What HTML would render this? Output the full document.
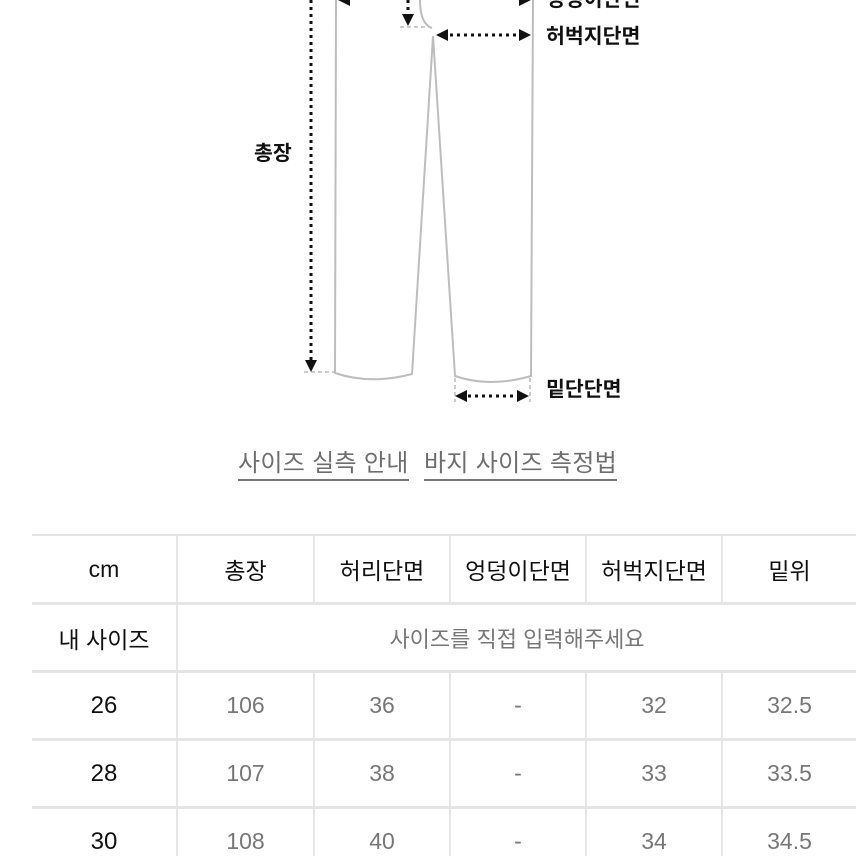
<!DOCTYPE html>
<html><head><meta charset="utf-8"><style>
html,body{margin:0;padding:0;background:#fff;width:856px;height:856px;overflow:hidden;position:relative;font-family:"Liberation Sans","Noto Sans CJK KR",sans-serif}
.lk{position:absolute;top:450px;font-size:24px;letter-spacing:0.3px;color:#6e6e6e;white-space:nowrap;line-height:28px;border-bottom:2px solid #777;padding-bottom:1px}
.c{position:absolute;display:flex;align-items:center;justify-content:center;font-size:23px;white-space:nowrap}
.h{color:#111}.v{color:#777}
.gl{position:absolute;background:#e6e6e6}
</style></head><body>
<svg width="856" height="440" style="position:absolute;left:0;top:0" xmlns="http://www.w3.org/2000/svg">
 <g fill="none" stroke="#bdbdbd" stroke-width="2">
  <path d="M336 0 L335 373 Q370 385 412 374 L433 36 L455 376 Q490 388 531 376 L533 0"/>
  <path d="M420 0 Q420 24 432 28"/>
 </g>
 <g stroke="#bbb" stroke-width="1.5" stroke-dasharray="4 3" fill="none">
  <path d="M304 372 L335 372"/><path d="M400 27 L430 27"/>
  <path d="M455 378 L455 402"/><path d="M530 378 L530 402"/>
 </g>
 <g stroke="#111" stroke-width="3" stroke-dasharray="3 4" fill="none">
  <path d="M311 0 L311 360"/><path d="M408 0 L408 16"/>
  <path d="M450 35 L518 35"/><path d="M468 396 L516 396"/>
 </g>
 <g fill="#111">
  <path d="M305 360 L317 360 L311 372Z"/><path d="M402 14 L414 14 L408 26Z"/>
  <path d="M436 35 L448 29 L448 41Z"/><path d="M531 35 L519 29 L519 41Z"/>
  <path d="M455 396 L467 390 L467 402Z"/><path d="M529 396 L517 390 L517 402Z"/>
  <path d="M338 0 L350 -6 L350 6Z"/><path d="M531 0 L519 -6 L519 6Z"/>
 </g>
 <g font-family="Liberation Sans,Noto Sans CJK KR,sans-serif" font-weight="bold" font-size="20.5" fill="#111">
  <text x="546" y="6">엉덩이단면</text>
  <text x="546" y="43">허벅지단면</text>
  <text x="254" y="160">총장</text>
  <text x="546" y="396">밑단단면</text>
 </g>
</svg>
<div class="lk" style="left:238px">사이즈 실측 안내</div>
<div class="lk" style="left:424px">바지 사이즈 측정법</div>

<div class="gl" style="left:32px;top:534px;width:824px;height:2px"></div>
<div class="gl" style="left:32px;top:602px;width:824px;height:3px"></div>
<div class="gl" style="left:32px;top:670px;width:824px;height:3px"></div>
<div class="gl" style="left:32px;top:738px;width:824px;height:3px"></div>
<div class="gl" style="left:32px;top:806px;width:824px;height:3px"></div>
<div class="gl" style="left:176px;top:534px;width:2px;height:322px"></div>
<div class="gl" style="left:313px;top:534px;width:2px;height:70px"></div>
<div class="gl" style="left:449px;top:534px;width:2px;height:70px"></div>
<div class="gl" style="left:585px;top:534px;width:2px;height:70px"></div>
<div class="gl" style="left:721px;top:534px;width:2px;height:70px"></div>
<div class="gl" style="left:313px;top:670px;width:2px;height:186px"></div>
<div class="gl" style="left:449px;top:670px;width:2px;height:186px"></div>
<div class="gl" style="left:585px;top:670px;width:2px;height:186px"></div>
<div class="gl" style="left:721px;top:670px;width:2px;height:186px"></div>

<div class="c h" style="left:32px;top:536px;width:144px;height:66px">cm</div>
<div class="c h" style="left:178px;top:536px;width:135px;height:66px">총장</div>
<div class="c h" style="left:315px;top:536px;width:134px;height:66px">허리단면</div>
<div class="c h" style="left:451px;top:536px;width:134px;height:66px">엉덩이단면</div>
<div class="c h" style="left:587px;top:536px;width:134px;height:66px">허벅지단면</div>
<div class="c h" style="left:723px;top:536px;width:133px;height:66px">밑위</div>

<div class="c h" style="left:32px;top:605px;width:144px;height:65px">내 사이즈</div>
<div class="c v" style="left:178px;top:605px;width:678px;height:65px;font-size:22px">사이즈를 직접 입력해주세요</div>

<div class="c h" style="left:32px;top:673px;width:144px;height:65px;font-size:24px">26</div>
<div class="c v" style="left:178px;top:673px;width:135px;height:65px">106</div>
<div class="c v" style="left:315px;top:673px;width:134px;height:65px">36</div>
<div class="c v" style="left:451px;top:673px;width:134px;height:65px">-</div>
<div class="c v" style="left:587px;top:673px;width:134px;height:65px">32</div>
<div class="c v" style="left:723px;top:673px;width:133px;height:65px">32.5</div>

<div class="c h" style="left:32px;top:741px;width:144px;height:65px;font-size:24px">28</div>
<div class="c v" style="left:178px;top:741px;width:135px;height:65px">107</div>
<div class="c v" style="left:315px;top:741px;width:134px;height:65px">38</div>
<div class="c v" style="left:451px;top:741px;width:134px;height:65px">-</div>
<div class="c v" style="left:587px;top:741px;width:134px;height:65px">33</div>
<div class="c v" style="left:723px;top:741px;width:133px;height:65px">33.5</div>

<div class="c h" style="left:32px;top:809px;width:144px;height:65px;font-size:24px">30</div>
<div class="c v" style="left:178px;top:809px;width:135px;height:65px">108</div>
<div class="c v" style="left:315px;top:809px;width:134px;height:65px">40</div>
<div class="c v" style="left:451px;top:809px;width:134px;height:65px">-</div>
<div class="c v" style="left:587px;top:809px;width:134px;height:65px">34</div>
<div class="c v" style="left:723px;top:809px;width:133px;height:65px">34.5</div>
</body></html>
